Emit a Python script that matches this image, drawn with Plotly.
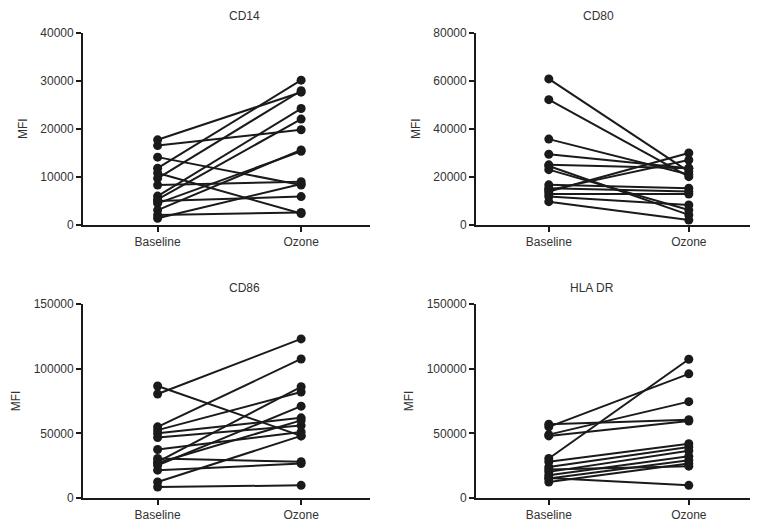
import plotly.graph_objects as go

groups = ["Baseline", "Ozone"]

cd14_baseline = [17.7, 16.5, 14.1, 11.8, 10.8, 9.7, 8.3, 6.0, 5.3, 4.5, 3.1, 2.1, 1.4, 5.0]
cd14_ozone    = [27.6, 19.8, 8.3, 30.1, 2.4, 27.9, 9.0, 24.2, 22.0, 15.3, 15.6, 2.6, 8.5, 5.9]

cd80_baseline = [60.7, 52.1, 35.7, 29.4, 25.0, 24.5, 23.0, 16.7, 15.3, 13.9, 12.9, 11.8, 9.7, 14.5]
cd80_ozone    = [22.2, 20.1, 21.0, 23.6, 23.6, 4.2, 6.2, 15.3, 13.9, 29.9, 12.9, 8.3, 2.1, 27.0]

cd86_baseline = [86.6, 80.4, 55.0, 52.5, 50.0, 46.8, 37.5, 30.5, 28.0, 25.3, 27.0, 21.5, 12.4, 8.5]
cd86_ozone    = [48.0, 123.0, 107.5, 82.0, 62.0, 56.0, 51.0, 28.0, 86.0, 71.0, 60.0, 26.6, 48.0, 9.8]

hla_baseline = [57.0, 55.0, 49.0, 48.0, 30.5, 28.0, 24.0, 20.2, 17.6, 15.0, 12.4, 22.0, 15.5]
hla_ozone    = [60.5, 96.0, 74.5, 59.5, 107.3, 42.0, 39.5, 36.5, 32.3, 29.2, 26.6, 24.6, 9.8]

panels = [
    ("CD14", cd14_baseline, cd14_ozone, 40000, 10000),
    ("CD80", cd80_baseline, cd80_ozone, 80000, 20000),
    ("CD86", cd86_baseline, cd86_ozone, 150000, 50000),
    ("HLA DR", hla_baseline, hla_ozone, 150000, 50000),
]

OFF = 8  # page body margin
W, H = 758 - OFF, 525 - OFF

def px(v):
    return (v - OFF) / W

def py(v):
    return 1 - (v - OFF) / H

xdoms = [[px(83), px(370)], [px(476), px(756)]]
ydoms = [[py(225), py(32.5)], [py(498), py(304)]]
title_y = [py(16), py(288)]

fig = go.Figure()
font = dict(family="Liberation Sans, Arial, sans-serif", size=12, color="#333333")

for i, (name, base, ozo, ymax, dt) in enumerate(panels):
    r, c = divmod(i, 2)
    sfx = "" if i == 0 else str(i + 1)
    for b, o in zip(base, ozo):
        fig.add_trace(go.Scatter(
            x=groups, y=[b * 1000, o * 1000], mode="lines+markers",
            line=dict(color="#1a1a1a", width=2),
            marker=dict(color="#1a1a1a", size=9),
            xaxis="x" + sfx, yaxis="y" + sfx, showlegend=False,
            cliponaxis=False, hoverinfo="skip"))
    fig.layout["xaxis" + sfx] = dict(
        domain=xdoms[c], anchor="y" + sfx, type="category", automargin=False,
        range=[-0.52, 1.48], showline=True, linecolor="#1a1a1a", linewidth=1.8,
        ticks="outside", ticklen=5, tickwidth=1.6, tickcolor="#1a1a1a",
        showgrid=False, zeroline=False, tickfont=font, fixedrange=True)
    fig.layout["yaxis" + sfx] = dict(
        domain=ydoms[r], anchor="x" + sfx, range=[0, ymax], automargin=False,
        tickvals=list(range(0, ymax + 1, dt)), tickformat="d",
        showline=True, linecolor="#1a1a1a", linewidth=1.8,
        ticks="outside", ticklen=5, tickwidth=1.6, tickcolor="#1a1a1a",
        showgrid=False, zeroline=False, tickfont=font,
        title=dict(text="MFI", font=font, standoff=10))
    fig.add_annotation(text=name, xref="paper", yref="paper",
                       x=(xdoms[c][0] + xdoms[c][1]) / 2, y=title_y[r],
                       showarrow=False, font=font, yanchor="middle")

fig.update_layout(width=W, height=H, margin=dict(l=0, r=0, t=0, b=0),
                  plot_bgcolor="white", paper_bgcolor="white")
fig.write_html("out.html")
